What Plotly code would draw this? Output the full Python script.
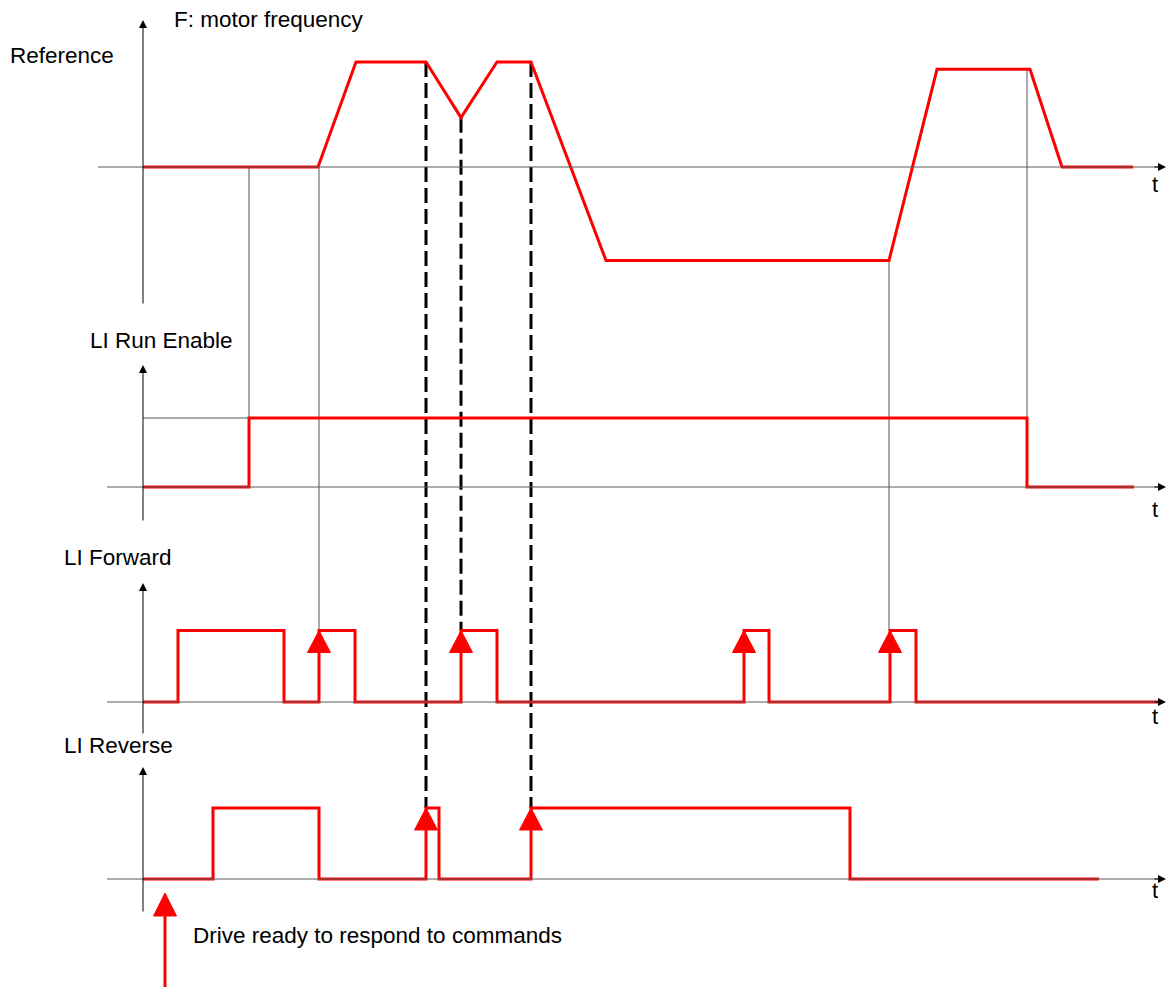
import plotly.graph_objects as go

W, H = 1167, 992
FONT = "Liberation Sans, Arial, sans-serif"
RED = "#ff0000"

# ---------------- data (time axis in diagram units) ----------------
# F: motor frequency (1 = reference frequency, forward positive)
ref_t = [143, 318, 356, 426, 461, 497, 531, 606, 889, 937, 1030, 1062, 1133]
ref_f = [0, 0, 1.0, 1.0, 0.47, 1.0, 1.0, -0.89, -0.89, 0.93, 0.93, 0, 0]

# LI Run Enable (logic level, step changes at each time)
run_t = [143, 249, 1027, 1134]
run_v = [0, 1, 0, 0]

# LI Forward
fwd_t = [143, 178, 284, 319, 355, 461, 497, 744, 769, 890, 916, 1162]
fwd_v = [0, 1, 0, 1, 0, 1, 0, 1, 0, 1, 0, 0]

# LI Reverse
rev_t = [143, 213, 319, 426, 439, 531, 850, 1099]
rev_v = [0, 1, 0, 1, 0, 1, 0, 0]

# rising edges taken into account (red arrows)
fwd_cmd_t = [319, 461, 744, 890]
rev_cmd_t = [426, 531]
ready_t = 165

# thin time guides: (time, (panel, level) top, (panel, level) bottom)
guides = [(249, ("ref", 0), ("run", 1)),
          (319, ("ref", 0), ("fwd", 1)),
          (889, ("ref", -0.89), ("fwd", 1)),
          (1027, ("ref", 0.93), ("run", 1))]
# dashed guides
dashed = [(426, ("ref", 1.0), ("rev", 1)),
          (461, ("ref", 0.47), ("fwd", 1)),
          (531, ("ref", 1.0), ("rev", 1))]

labels = {"ref": "Reference", "run": "LI Run Enable", "fwd": "LI Forward", "rev": "LI Reverse"}

# ---------------- layout of panels (pixels) ----------------
PANELS = {
    "ref": dict(base=167, unit=105, axis="y2", hstart=98, vtop=20, vbot=305, lab=(8, 55), t_y=184),
    "run": dict(base=487, unit=69, axis="y3", hstart=107, vtop=365, vbot=522, lab=(88, 340), t_y=509),
    "fwd": dict(base=702, unit=71.5, axis="y4", hstart=107, vtop=583, vbot=735, lab=(62, 557), t_y=716),
    "rev": dict(base=879, unit=71, axis="y5", hstart=107, vtop=767, vbot=913, lab=(62, 745), t_y=890),
}
AXIS_X = 143


def px(panel, level):
    p = PANELS[panel]
    return p["base"] - p["unit"] * level


def yrange(panel):
    p = PANELS[panel]
    return [-(H - p["base"]) / p["unit"], p["base"] / p["unit"]]


fig = go.Figure()
annotations = []
shapes = []

# axes of each panel
for key, p in PANELS.items():
    shapes.append(dict(type="line", xref="x", yref="y", x0=p["hstart"], x1=W - 6,
                       y0=p["base"], y1=p["base"], line=dict(color="#5a5a5a", width=1)))
    annotations.append(dict(x=W - 1, y=p["base"], ax=W - 14, ay=p["base"], xref="x", yref="y",
                            axref="x", ayref="y", showarrow=True, arrowhead=2, arrowsize=1.6,
                            arrowwidth=1, arrowcolor="black", text=""))
    annotations.append(dict(x=AXIS_X, y=p["vtop"], ax=AXIS_X, ay=p["vbot"], xref="x", yref="y",
                            axref="x", ayref="y", showarrow=True, arrowhead=2, arrowsize=1.6,
                            arrowwidth=1, arrowcolor="black", text=""))
    annotations.append(dict(x=1150, y=p["t_y"], xref="x", yref="y", text="t", showarrow=False,
                            xanchor="left", yanchor="middle", font=dict(family=FONT, size=22, color="black")))
    annotations.append(dict(x=p["lab"][0], y=p["lab"][1], xref="x", yref="y", text=labels[key],
                            showarrow=False, xanchor="left", yanchor="middle",
                            font=dict(family=FONT, size=22.5, color="black")))

annotations.append(dict(x=172, y=19, xref="x", yref="y", text="F: motor frequency", showarrow=False,
                        xanchor="left", yanchor="middle", font=dict(family=FONT, size=22.5, color="black")))
annotations.append(dict(x=191, y=935, xref="x", yref="y", text="Drive ready to respond to commands",
                        showarrow=False, xanchor="left", yanchor="middle",
                        font=dict(family=FONT, size=22.5, color="black")))

# Run enable level reference
shapes.append(dict(type="line", xref="x", yref="y", x0=AXIS_X, x1=run_t[1], y0=px("run", 1), y1=px("run", 1),
                   line=dict(color="#555555", width=1)))

# thin guides
for t, (pa, la), (pb, lb) in guides:
    fig.add_trace(go.Scatter(x=[t, t], y=[px(pa, la), px(pb, lb)], mode="lines",
                             line=dict(color="#555555", width=1), yaxis="y", hoverinfo="skip"))

# signals
fig.add_trace(go.Scatter(x=ref_t, y=ref_f, mode="lines", line=dict(color=RED, width=3), yaxis="y2"))
fig.add_trace(go.Scatter(x=run_t, y=run_v, mode="lines", line=dict(color=RED, width=3, shape="hv"), yaxis="y3"))
fig.add_trace(go.Scatter(x=fwd_t, y=fwd_v, mode="lines", line=dict(color=RED, width=3, shape="hv"), yaxis="y4"))
fig.add_trace(go.Scatter(x=rev_t, y=rev_v, mode="lines", line=dict(color=RED, width=3, shape="hv"), yaxis="y5"))

# dashed guides
for t, (pa, la), (pb, lb) in dashed:
    fig.add_trace(go.Scatter(x=[t, t], y=[px(pa, la), px(pb, lb)], mode="lines",
                             line=dict(color="black", width=3, dash="15px,6px"), yaxis="y", hoverinfo="skip"))

# red arrowheads at taken-into-account rising edges
TRI_W, TRI_H = 23, 22
tx, ty = [], []
for panel, times in (("fwd", fwd_cmd_t), ("rev", rev_cmd_t)):
    for t in times:
        top = px(panel, 1)
        tx += [t - TRI_W / 2, t, t + TRI_W / 2, t - TRI_W / 2, None]
        ty += [top + TRI_H, top, top + TRI_H, top + TRI_H, None]
# "drive ready" arrow
ready_tip = px("rev", 0) + 14
tx += [ready_t - TRI_W / 2, ready_t, ready_t + TRI_W / 2, ready_t - TRI_W / 2, None]
ty += [ready_tip + TRI_H + 1, ready_tip, ready_tip + TRI_H + 1, ready_tip + TRI_H + 1, None]
fig.add_trace(go.Scatter(x=[ready_t, ready_t], y=[ready_tip + TRI_H, 987], mode="lines",
                         line=dict(color=RED, width=3), yaxis="y"))
fig.add_trace(go.Scatter(x=tx, y=ty, mode="lines", fill="toself", fillcolor=RED,
                         line=dict(color=RED, width=1), yaxis="y"))

ax_common = dict(visible=False, showgrid=False, zeroline=False, fixedrange=True)
fig.update_layout(
    width=W, height=H, autosize=False,
    margin=dict(l=0, r=0, t=0, b=0),
    paper_bgcolor="white", plot_bgcolor="white",
    showlegend=False,
    xaxis=dict(range=[0, W], domain=[0, 1], **ax_common),
    yaxis=dict(range=[H, 0], domain=[0, 1], **ax_common),
    yaxis2=dict(range=yrange("ref"), overlaying="y", **ax_common),
    yaxis3=dict(range=yrange("run"), overlaying="y", **ax_common),
    yaxis4=dict(range=yrange("fwd"), overlaying="y", **ax_common),
    yaxis5=dict(range=yrange("rev"), overlaying="y", **ax_common),
    shapes=shapes,
    annotations=annotations,
)

fig.write_html("out.html", config={"displayModeBar": False},
               post_script="document.body.style.margin='0';document.body.style.overflow='hidden';")
